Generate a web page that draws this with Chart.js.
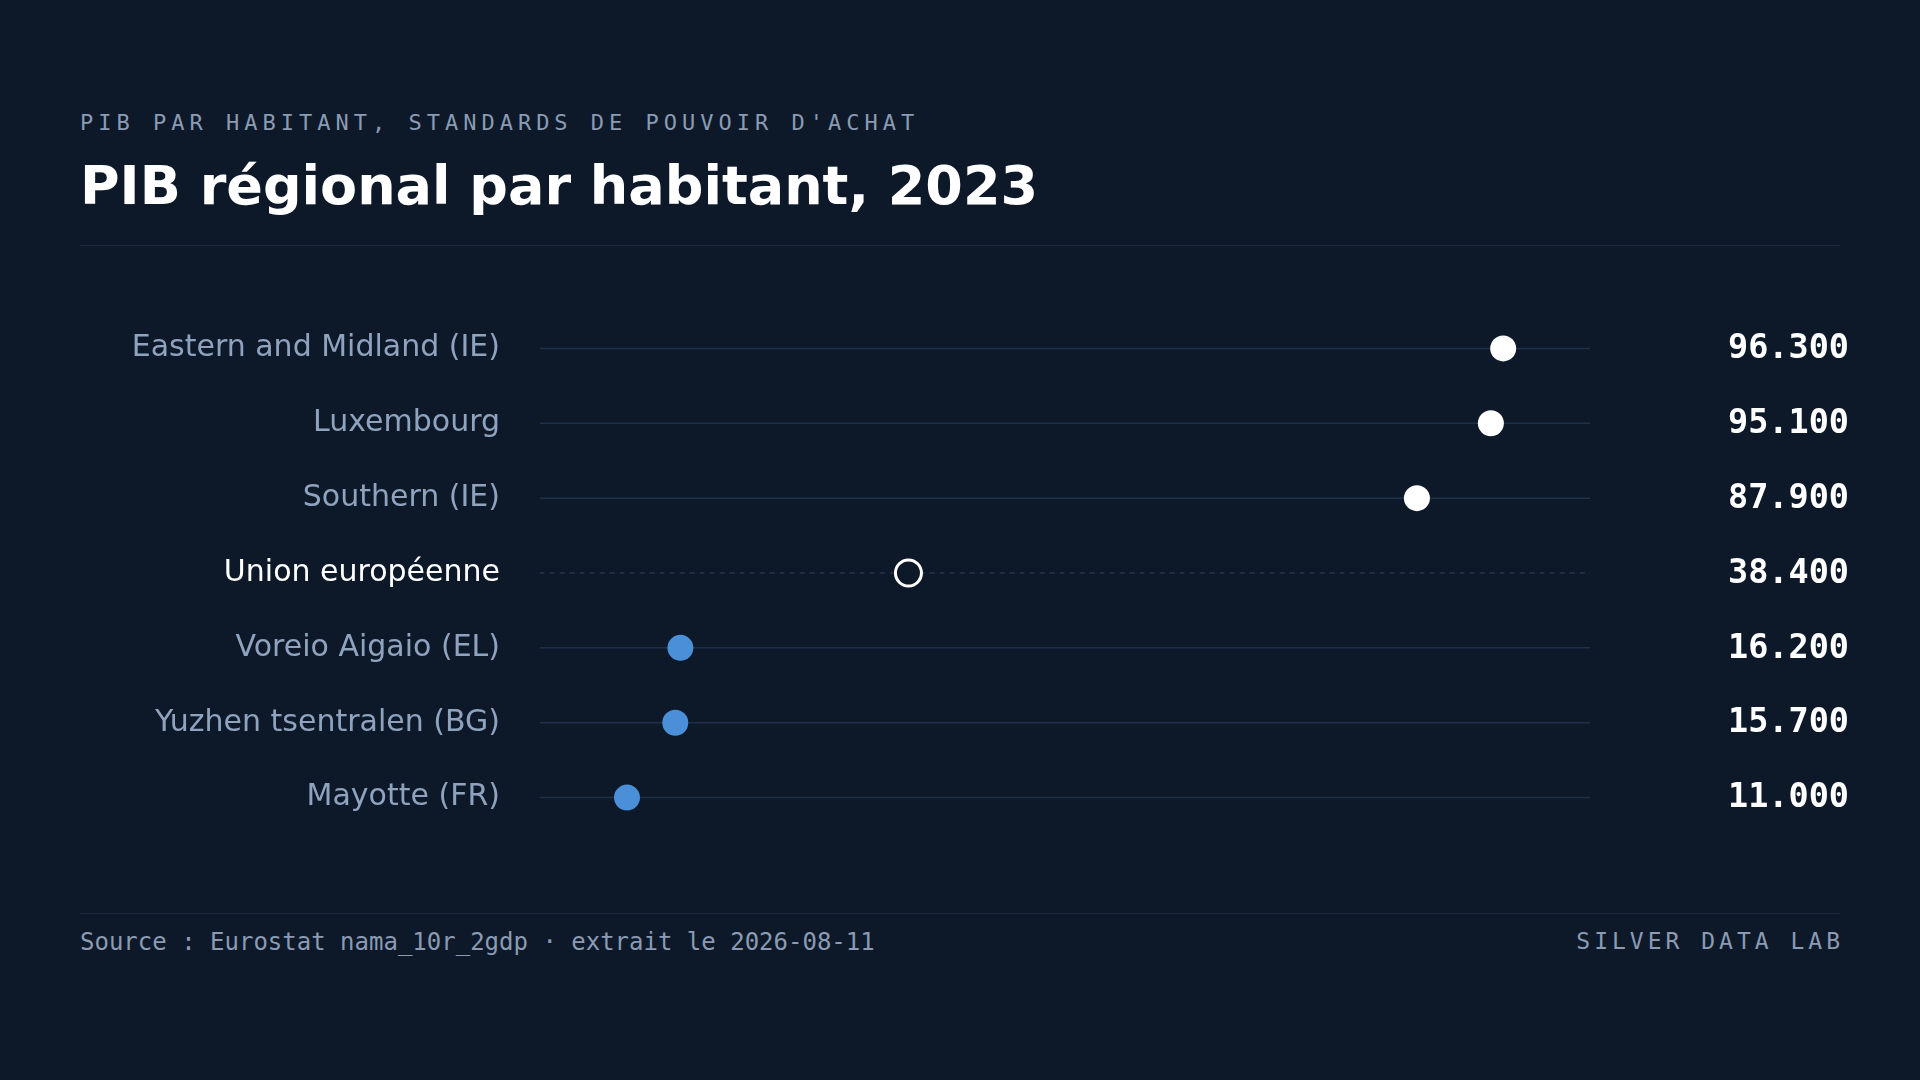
<!DOCTYPE html>
<html>
<head>
<meta charset="utf-8">
<script src="https://cdn.jsdelivr.net/npm/chart.js@4/dist/chart.umd.min.js"></script>
<style>
body { margin: 0; background: #0d1929; width: 1920px; height: 1080px; overflow: hidden; font-family: "DejaVu Sans", sans-serif; }
#wrap { position: relative; width: 1920px; height: 1080px; }
.kicker { position: absolute; left: 80px; top: 110px; font: 22px "DejaVu Sans Mono", monospace; letter-spacing: 5px; color: #8a9bb3; }
.title { position: absolute; left: 80px; top: 154px; font: bold 54px "DejaVu Sans", sans-serif; color: #ffffff; }
.rule { position: absolute; left: 80px; width: 1760px; height: 1px; background: #1c2a3d; }
.foot { position: absolute; top: 928px; font: 24px "DejaVu Sans Mono", monospace; color: #8a9bb3; }
#chartBox { position: absolute; left: 0; top: 298px; width: 1920px; height: 550px; }
</style>
</head>
<body>
<div id="wrap">
    <div class="kicker">PIB PAR HABITANT, STANDARDS DE POUVOIR D'ACHAT</div>
    <div class="title">PIB régional par habitant, 2023</div>
    <div class="rule" style="top:245px"></div>
    <div id="chartBox"><canvas id="chart"></canvas></div>
    <div class="rule" style="top:913px"></div>
    <div class="foot" style="left:80px">Source : Eurostat nama_10r_2gdp · extrait le 2026-08-11</div>
    <div class="foot" style="right:76px; font-size:23px; letter-spacing:4px">SILVER DATA LAB</div>
</div>
<script>
const regions = ["Eastern and Midland (IE)", "Luxembourg", "Southern (IE)", "Union européenne", "Voreio Aigaio (EL)", "Yuzhen tsentralen (BG)", "Mayotte (FR)"];
const gdpValues = [96300, 95100, 87900, 38400, 16200, 15700, 11000];
const valueLabels = ["96.300", "95.100", "87.900", "38.400", "16.200", "15.700", "11.000"];
const referenceIndex = 3;

const WHITE = "#ffffff";
const BLUE = "#4a8fd8";
const BG = "#0d1929";

function dotFill(i)
{
    if (i === referenceIndex) return BG;
    return gdpValues[i] > 50000 ? WHITE : BLUE;
}

const rowsPlugin =
{
    id: "rows",
    beforeDatasetsDraw(chart)
    {
        const ctx = chart.ctx;
        const x = chart.scales.x;
        const y = chart.scales.y;
        ctx.save();
        regions.forEach((name, i) =>
        {
            const py = y.getPixelForValue(i);
            ctx.beginPath();
            ctx.strokeStyle = i === referenceIndex ? "#24344a" : "#1f3048";
            ctx.lineWidth = 1.5;
            ctx.setLineDash(i === referenceIndex ? [5, 5] : []);
            ctx.moveTo(x.getPixelForValue(2500), py);
            ctx.lineTo(x.right, py);
            ctx.stroke();
            ctx.setLineDash([]);

            ctx.textBaseline = "middle";
            ctx.textAlign = "right";
            ctx.font = "30px 'DejaVu Sans'";
            ctx.fillStyle = i === referenceIndex ? WHITE : "#8fa3be";
            ctx.fillText(name, 500, py);

            ctx.font = "bold 33.5px 'DejaVu Sans Mono'";
            ctx.fillStyle = WHITE;
            ctx.fillText(valueLabels[i], 1849, py + 1);
        });
        ctx.restore();
    }
};

new Chart(document.getElementById("chart").getContext("2d"),
{
    type: "line",
    data:
    {
        labels: regions,
        datasets:
        [
            {
                data: gdpValues,
                showLine: false,
                pointRadius: 13,
                pointHoverRadius: 13,
                pointBackgroundColor: gdpValues.map((v, i) => dotFill(i)),
                pointBorderColor: gdpValues.map((v, i) => i === referenceIndex ? WHITE : dotFill(i)),
                pointBorderWidth: gdpValues.map((v, i) => i === referenceIndex ? 3 : 0)
            }
        ]
    },
    options:
    {
        indexAxis: "y",
        animation: false,
        responsive: true,
        maintainAspectRatio: false,
        layout: { padding: { left: 514, right: 330, top: 10, bottom: 0 } },
        plugins: { legend: { display: false }, tooltip: { enabled: false } },
        scales:
        {
            x: { type: "linear", min: 0, max: 104750, display: false },
            y: { type: "category", offset: true, display: false, grid: { display: false } }
        }
    },
    plugins: [rowsPlugin]
});
</script>
</body>
</html>
